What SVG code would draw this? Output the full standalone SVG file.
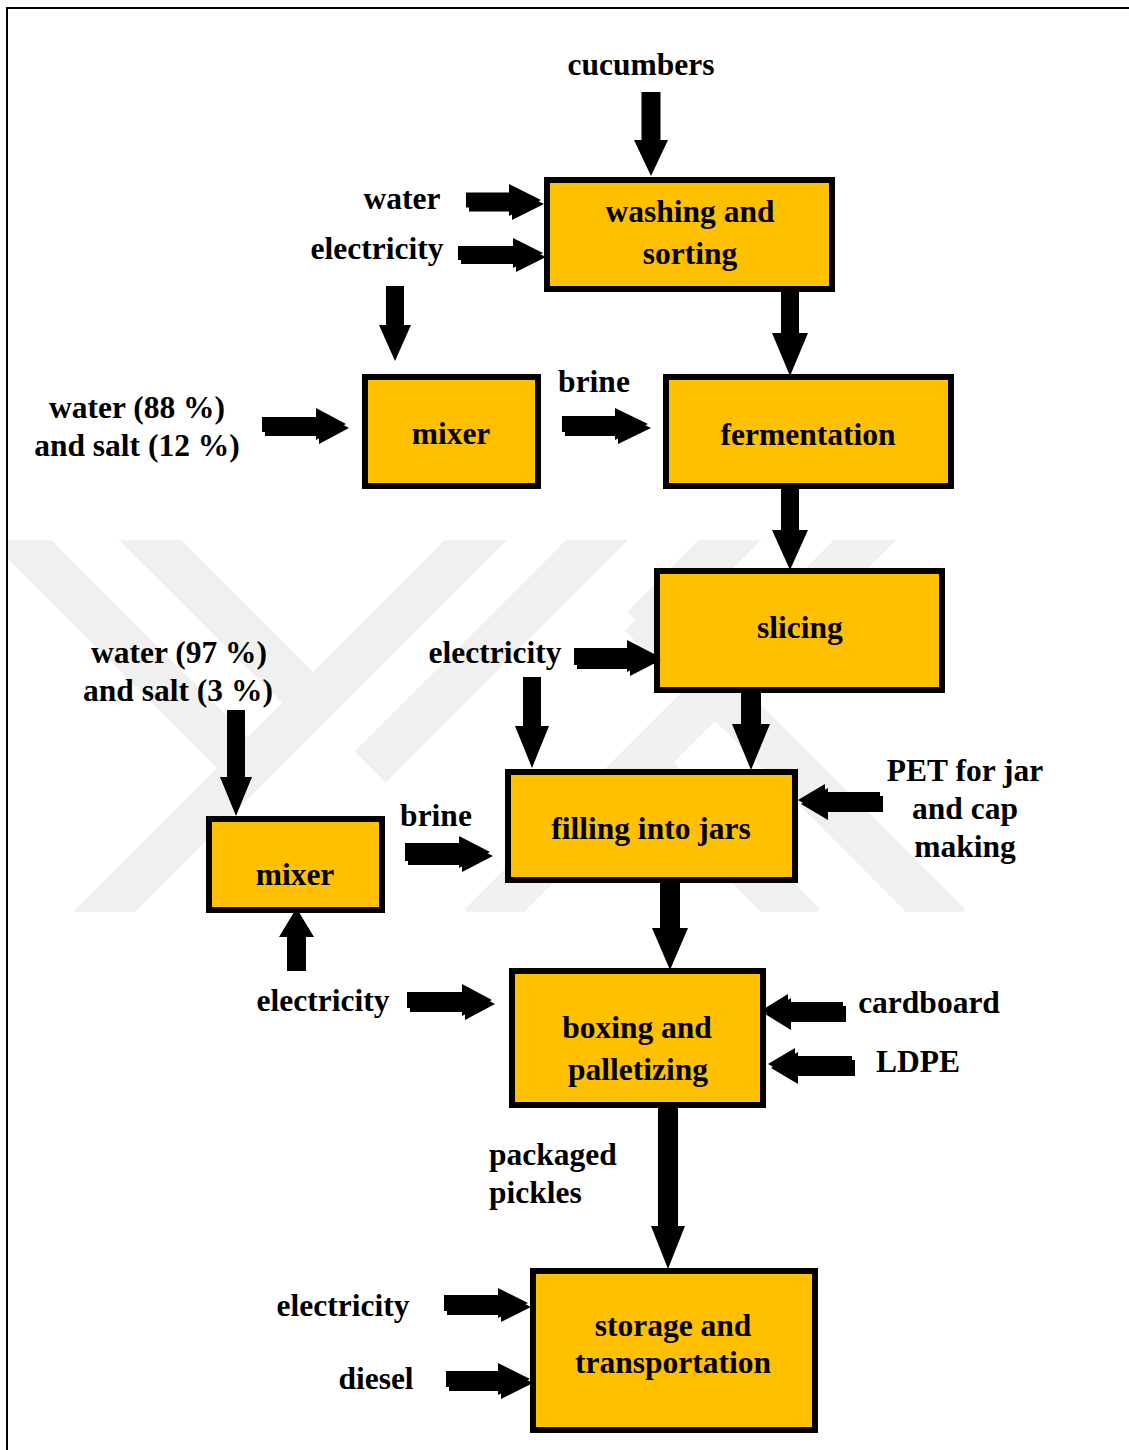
<svg xmlns="http://www.w3.org/2000/svg" xmlns:xlink="http://www.w3.org/1999/xlink" width="1129" height="1450" viewBox="0 0 1129 1450">
  <style>
    .box { fill: #FFC000; stroke: #000; stroke-width: 6; }
    .lbl { font-family: "Liberation Serif", "Times New Roman", serif; font-weight: bold; font-size: 31.5px; fill: #000; text-anchor: middle; }
    .left { text-anchor: start; }
    .arrow { fill: #000; }
    .shadow { fill: #bdbdbd; }
    .wm { fill: none; stroke: #f0f0f0; stroke-width: 44; stroke-linecap: butt; }
  </style>
  <defs>
    <clipPath id="wmClip">
      <rect x="8" y="540" width="1121" height="372"/>
    </clipPath>
  </defs>

  <rect x="0" y="0" width="1129" height="1450" fill="#fff"/>

  <!-- faint background emblem -->
  <g id="emblem" clip-path="url(#wmClip)">
    <line class="wm" x1="-10" y1="510" x2="250" y2="770"/>
    <line class="wm" x1="120" y1="510" x2="318" y2="708"/>
    <line class="wm" x1="506" y1="510" x2="90" y2="926"/>
    <line class="wm" x1="627" y1="510" x2="370" y2="767"/>
    <line class="wm" x1="760" y1="510" x2="643" y2="627"/>
    <line class="wm" x1="895" y1="510" x2="480" y2="925"/>
    <line class="wm" x1="640" y1="760" x2="805" y2="925"/>
    <line class="wm" x1="640" y1="615" x2="950" y2="925"/>
  </g>

  <!-- page frame -->
  <path d="M7 1450 V8 H1129" fill="none" stroke="#000" stroke-width="2"/>

  <!-- process nodes -->
  <g id="washing">
    <rect class="box" x="547" y="180" width="285" height="109"/>
    <text class="lbl" x="690" y="222">washing and</text>
    <text class="lbl" x="690" y="264">sorting</text>
  </g>
  <g id="mixer-1">
    <rect class="box" x="365" y="377" width="173" height="109"/>
    <text class="lbl" x="451" y="444">mixer</text>
  </g>
  <g id="fermentation">
    <rect class="box" x="666" y="377" width="285" height="109"/>
    <text class="lbl" x="808" y="445">fermentation</text>
  </g>
  <g id="slicing">
    <rect class="box" x="657" y="571" width="285" height="119"/>
    <text class="lbl" x="800" y="638">slicing</text>
  </g>
  <g id="mixer-2">
    <rect class="box" x="209" y="819" width="173" height="91"/>
    <text class="lbl" x="295" y="885">mixer</text>
  </g>
  <g id="filling">
    <rect class="box" x="508" y="772" width="287" height="108"/>
    <text class="lbl" x="651" y="839">filling into jars</text>
  </g>
  <g id="boxing">
    <rect class="box" x="512" y="971" width="251" height="134"/>
    <text class="lbl" x="637" y="1038">boxing and</text>
    <text class="lbl" x="638" y="1080">palletizing</text>
  </g>
  <g id="storage">
    <rect class="box" x="533" y="1271" width="282" height="159"/>
    <text class="lbl" x="673" y="1336">storage and</text>
    <text class="lbl" x="673" y="1373">transportation</text>
  </g>

  <!-- input / output labels -->
  <g id="labels">
    <text class="lbl" x="641" y="75">cucumbers</text>
    <text class="lbl" x="402" y="209">water</text>
    <text class="lbl" x="377" y="259">electricity</text>
    <text class="lbl" x="137" y="418">water (88 %)</text>
    <text class="lbl" x="137" y="456">and salt (12 %)</text>
    <text class="lbl" x="594" y="392">brine</text>
    <text class="lbl" x="495" y="663">electricity</text>
    <text class="lbl" x="179" y="663">water (97 %)</text>
    <text class="lbl" x="178" y="701">and salt (3 %)</text>
    <text class="lbl" x="436" y="826">brine</text>
    <text class="lbl" x="965" y="781">PET for jar</text>
    <text class="lbl" x="965" y="819">and cap</text>
    <text class="lbl" x="965" y="857">making</text>
    <text class="lbl" x="323" y="1011">electricity</text>
    <text class="lbl" x="929" y="1013">cardboard</text>
    <text class="lbl" x="918" y="1072">LDPE</text>
    <text class="lbl left" x="489" y="1165">packaged</text>
    <text class="lbl left" x="489" y="1203">pickles</text>
    <text class="lbl" x="343" y="1316">electricity</text>
    <text class="lbl" x="376" y="1389">diesel</text>
  </g>

  <!-- block arrows -->
  <g id="connectors">
    <g class="shadow" transform="translate(3,4)">
      <use xlink:href="#a-water-wash"/>
      <use xlink:href="#a-elec-wash"/>
      <use xlink:href="#a-brine-mix1"/>
      <use xlink:href="#a-brine-ferm"/>
      <use xlink:href="#a-elec-slice"/>
      <use xlink:href="#a-brine-fill"/>
      <use xlink:href="#a-pet-fill"/>
      <use xlink:href="#a-elec-box"/>
      <use xlink:href="#a-card-box"/>
      <use xlink:href="#a-ldpe-box"/>
      <use xlink:href="#a-elec-store"/>
      <use xlink:href="#a-diesel-store"/>
    </g>
    <path id="a-water-wash" class="arrow" d="M466 192.5 H509 V184 L541 200 L509 216 V207.5 H466 Z"/>
    <path id="a-elec-wash" class="arrow" d="M458 246 H513 V238 L543 253 L513 268 V260 H458 Z"/>
    <path id="a-brine-mix1" class="arrow" d="M262 417 H316 V408 L346 424 L316 440 V432 H262 Z"/>
    <path id="a-brine-ferm" class="arrow" d="M562 416 H615 V408 L648 424 L615 440 V432 H562 Z"/>
    <path id="a-elec-slice" class="arrow" d="M574 648 H627 V640 L658 656 L627 672 V665 H574 Z"/>
    <path id="a-brine-fill" class="arrow" d="M405 843 H459 V836 L490 852 L459 868 V861 H405 Z"/>
    <path id="a-pet-fill" class="arrow" d="M880 792 H825 V784 L798 800 L825 816 V808 H880 Z"/>
    <path id="a-elec-box" class="arrow" d="M407 992 H462 V984 L492 1000 L462 1016 V1008 H407 Z"/>
    <path id="a-card-box" class="arrow" d="M843 1002 H788 V994 L762 1010 L788 1026 V1018 H843 Z"/>
    <path id="a-ldpe-box" class="arrow" d="M852 1056 H795 V1048 L768 1064 L795 1080 V1072 H852 Z"/>
    <path id="a-elec-store" class="arrow" d="M444 1295 H498 V1288 L528 1303 L498 1318 V1311 H444 Z"/>
    <path id="a-diesel-store" class="arrow" d="M446 1371 H498 V1363 L530 1379 L498 1395 V1387 H446 Z"/>

    <path class="arrow" d="M641.5 92 V140 H634 L651 176 L668 140 H660.5 V92 Z"/>
    <path class="arrow" d="M386 286 V325 H379 L395 361 L411 325 H404 V286 Z"/>
    <path class="arrow" d="M781 290 V333 H772 L790 376 L808 333 H799 V290 Z"/>
    <path class="arrow" d="M781 487 V530 H772 L790 570 L808 530 H799 V487 Z"/>
    <path class="arrow" d="M523 677 V726 H515 L532 768 L549 726 H541 V677 Z"/>
    <path class="arrow" d="M741 691 V724 H732 L751 770 L770 724 H761 V691 Z"/>
    <path class="arrow" d="M227 710 V777 H220 L236 816 L252 777 H245 V710 Z"/>
    <path class="arrow" d="M287 971 V937 H279 L296.5 908 L314 937 H306 V971 Z"/>
    <path class="arrow" d="M660 882 V928 H652 L670 970 L688 928 H680 V882 Z"/>
    <path class="arrow" d="M658 1106 V1226 H651 L668 1269 L685 1226 H678 V1106 Z"/>
  </g>
</svg>
